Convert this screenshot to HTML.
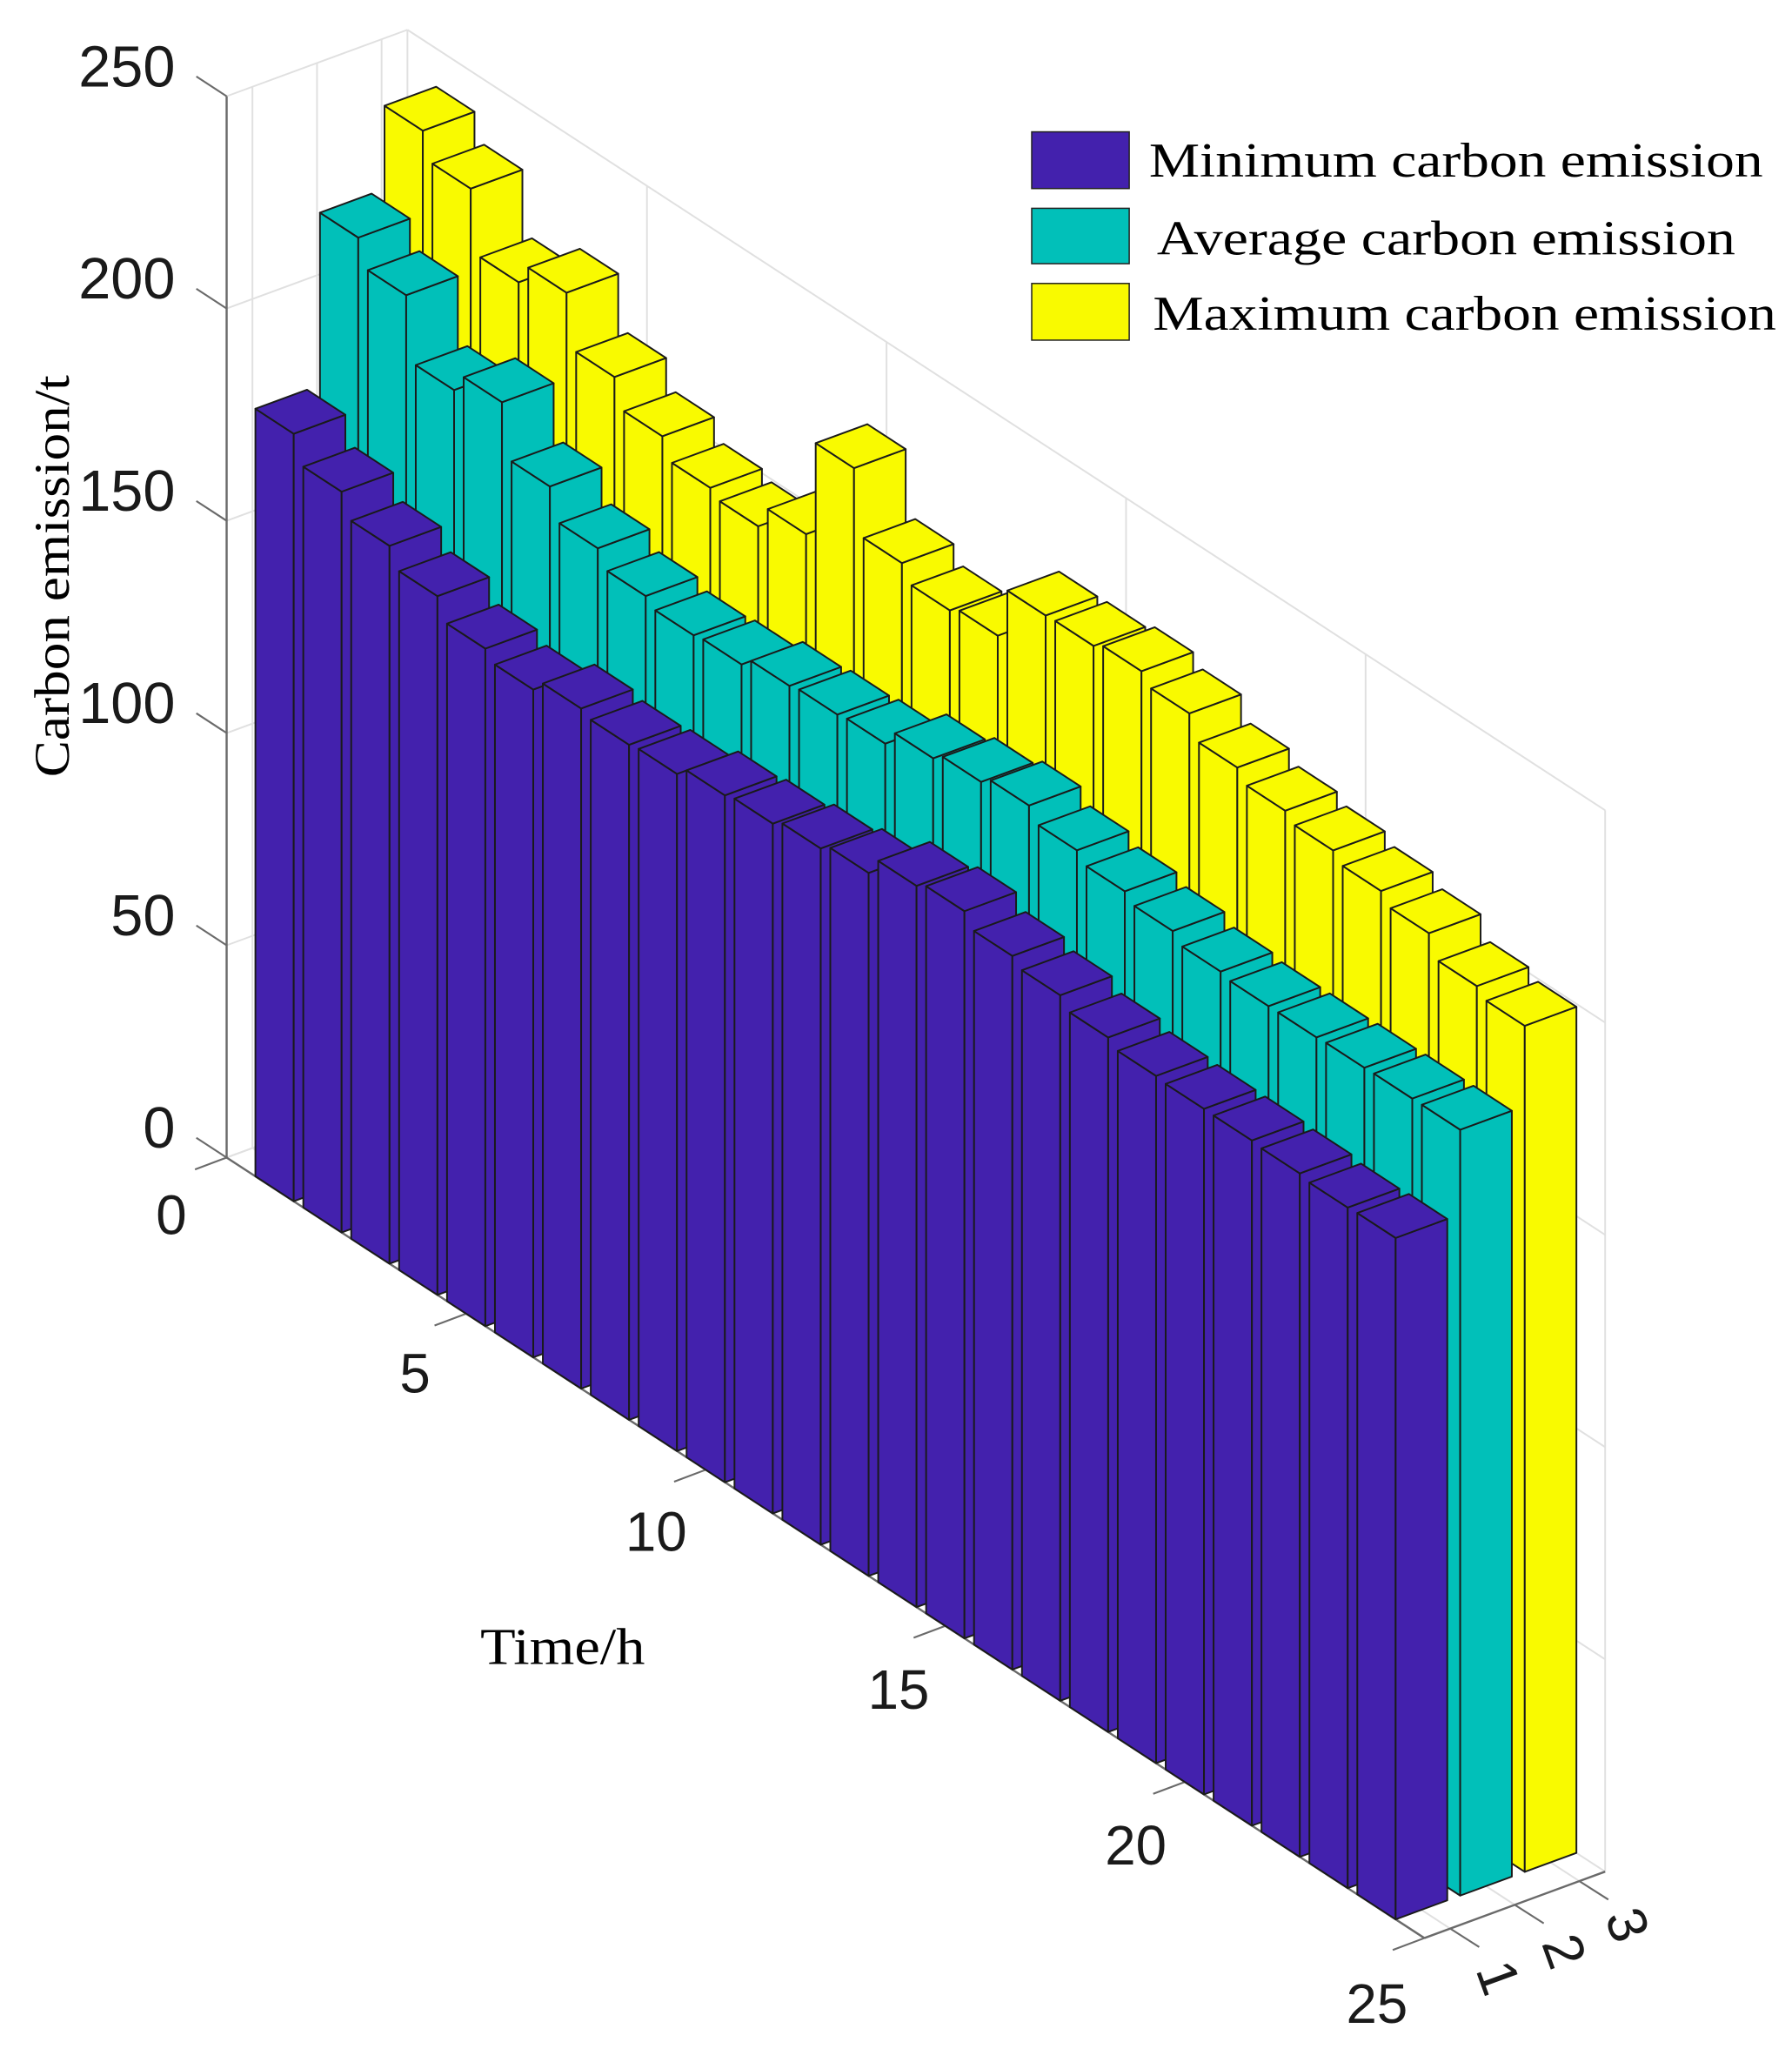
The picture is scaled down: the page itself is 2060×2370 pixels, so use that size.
<!DOCTYPE html>
<html><head><meta charset="utf-8">
<style>
html,body{margin:0;padding:0;background:#fff;}
svg{display:block;}
</style></head>
<body>
<svg id="c" xmlns="http://www.w3.org/2000/svg" width="2060" height="2370" viewBox="0 0 1360 1564" preserveAspectRatio="none">
<rect width="1360" height="1564" fill="#fff"/>
<g id="grid"></g>
<g id="axes"></g>
<g id="bars"></g>
<g id="labels" font-family="Liberation Sans, sans-serif" fill="#1a1a1a"></g>
<g font-family="Liberation Serif, serif" fill="#000">
<text x="0" y="0" font-size="38" text-anchor="middle" transform="translate(52,437) rotate(-90)" textLength="305" lengthAdjust="spacingAndGlyphs">Carbon emission/t</text>
<text x="427" y="1262" font-size="39" text-anchor="middle" textLength="125" lengthAdjust="spacingAndGlyphs">Time/h</text>
<rect x="783" y="100" width="74" height="43" fill="#4321AD" stroke="#222" stroke-width="1"/>
<rect x="783" y="158" width="74" height="42" fill="#01C0B9" stroke="#222" stroke-width="1"/>
<rect x="783" y="215" width="74" height="43" fill="#F9FA00" stroke="#222" stroke-width="1"/>
<text x="872" y="134" font-size="37" textLength="466" lengthAdjust="spacingAndGlyphs">Minimum carbon emission</text>
<text x="878" y="193" font-size="37" textLength="439" lengthAdjust="spacingAndGlyphs">Average carbon emission</text>
<text x="875" y="250" font-size="37" textLength="473" lengthAdjust="spacingAndGlyphs">Maximum carbon emission</text>
</g>
</svg>
<script>
(function(){
var NS="http://www.w3.org/2000/svg";
function P(t,s,z){return [172+36.36*t+49*(s-0.6), 878+23.68*t-18*(s-0.6)-3.22*z];}
function line(g,a,b,col,w){var l=document.createElementNS(NS,"line");l.setAttribute("x1",a[0]);l.setAttribute("y1",a[1]);l.setAttribute("x2",b[0]);l.setAttribute("y2",b[1]);l.setAttribute("stroke",col);l.setAttribute("stroke-width",w);g.appendChild(l);}
function poly(g,pts,fill){var p=document.createElementNS(NS,"polygon");p.setAttribute("points",pts.map(function(q){return q[0].toFixed(2)+","+q[1].toFixed(2);}).join(" "));p.setAttribute("fill",fill);p.setAttribute("stroke","#1a1a1a");p.setAttribute("stroke-width","1.3");p.setAttribute("stroke-linejoin","round");g.appendChild(p);}
function text(g,x,y,str,size,anchor,rot){var t=document.createElementNS(NS,"text");t.setAttribute("x",x);t.setAttribute("y",y);t.setAttribute("font-size",size);t.setAttribute("text-anchor",anchor||"middle");t.setAttribute("dominant-baseline","central");if(rot)t.setAttribute("transform","rotate("+rot+" "+x+" "+y+")");t.textContent=str;g.appendChild(t);}
var grid=document.getElementById("grid"),axes=document.getElementById("axes"),bars=document.getElementById("bars"),lab=document.getElementById("labels");
var gc="#e0e0e0";
for(var z=0;z<=250;z+=50){line(grid,P(0,3.4,z),P(25,3.4,z),gc,1.3);}
for(var t=0;t<=25;t+=5){line(grid,P(t,3.4,0),P(t,3.4,250),gc,1.3);}
for(var z=0;z<=250;z+=50){line(grid,P(0,0.6,z),P(0,3.4,z),gc,1.3);}
[1,2,3].forEach(function(s){line(grid,P(0,s,0),P(0,s,250),gc,1.3);});
for(var t=0;t<=25;t+=5){line(grid,P(t,0.6,0),P(t,3.4,0),gc,1.3);}
[1,2,3].forEach(function(s){line(grid,P(0,s,0),P(25,s,0),gc,1.3);});
var ac="#6a6a6a";
line(axes,P(0,0.6,0),P(0,0.6,250),ac,1.6);
for(var z=0;z<=250;z+=50){var a=P(0,0.6,z);line(axes,a,[a[0]-23,a[1]-15],ac,1.4);text(lab,133,a[1]-22,String(z),44,"end");}
line(axes,P(0,0.6,0),P(25,0.6,0),ac,1.6);
for(var t=0;t<=25;t+=5){var a=P(t,0.6,0);line(axes,a,[a[0]-24,a[1]+9],ac,1.4);}
var tl=[[0,130,922],[5,315,1042],[10,498,1162],[15,682,1282],[20,862,1400],[25,1045,1520]];
tl.forEach(function(d){text(lab,d[1],d[2],String(d[0]),42,"middle");});
line(axes,P(25,0.6,0),P(25,3.4,0),ac,1.6);
[[1,1137,1500],[2,1187,1480],[3,1235,1460]].forEach(function(d){var a=P(25,d[0],0);line(axes,a,[a[0]+22,a[1]+14],ac,1.4);text(lab,d[1],d[2],String(d[0]),42,"middle",70);});
var data={
1:[180.8,174.5,169.1,164.6,159.6,157.3,160.2,159,159.5,161.8,162.5,164,165.6,169.9,171.3,168.1,166.2,163.6,161.9,161.5,161.4,161,160.3,160.5],
2:[221.4,215.2,200.2,204.7,192.2,185,181.1,179.2,179.7,182,182.6,183.1,187,188.8,190.6,187.4,185.1,183.1,180.9,180.1,180.1,180.3,180.4,180.4],
3:[241,234.7,220,224.9,212.4,205.8,201,199.3,204.8,227.7,212.7,208.9,210.3,222.4,222.6,224,221.4,216,213.2,211.2,209,206.4,201.3,199.3]};
var col={1:"#4321AD",2:"#01C0B9",3:"#F9FA00"};
[3,2,1].forEach(function(s){
 for(var i=0;i<24;i++){var t=i+1,h=data[s][i];
  var t0=t-0.4,t1=t+0.4,s0=s-0.4,s1=s+0.4,c=col[s];
  poly(bars,[P(t0,s0,0),P(t1,s0,0),P(t1,s0,h),P(t0,s0,h)],c);
  poly(bars,[P(t1,s0,0),P(t1,s1,0),P(t1,s1,h),P(t1,s0,h)],c);
  poly(bars,[P(t0,s0,h),P(t1,s0,h),P(t1,s1,h),P(t0,s1,h)],c);
 }
});
})();
</script>
</body></html>
